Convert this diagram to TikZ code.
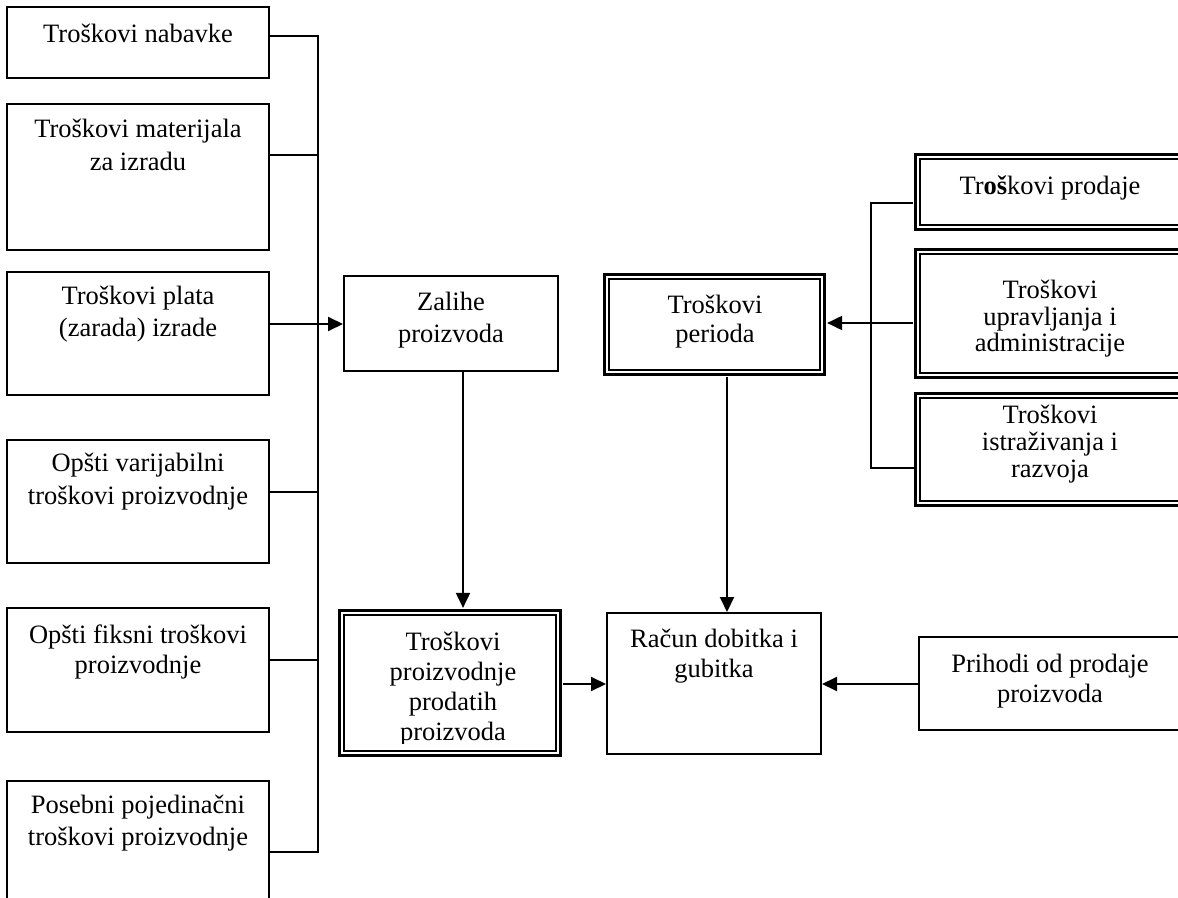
\documentclass[tikz,border=0pt]{standalone}
\usepackage{fontspec}
\setmainfont{Liberation Serif}
\usetikzlibrary{arrows.meta,calc}
\begin{document}
\begin{tikzpicture}[x=0.5pt,y=-0.5pt,
  box/.style={draw, line width=1pt, rectangle, inner sep=0pt},
  dbox/.style={draw, line width=1.3pt, rectangle, inner sep=0pt},
  dinner/.style={line width=0.9pt},
  lbl/.style={font=\fontsize{13.25pt}{#1}\selectfont, align=center, inner sep=0pt},
  lbl/.default=16pt,
  wire/.style={line width=1pt},
  arr/.style={line width=1pt, -{Triangle[length=7.5pt,width=7pt]}},
  dd/.style={shorten >=0.65pt},
  ds/.style={shorten <=0.65pt}]
\useasboundingbox (0,0) rectangle (1178,898);
\clip (0,0) rectangle (1178,898);

% left column: cost inputs
\node[box, minimum width=131pt, minimum height=35.5pt] (L1) at (138,42.5) {};
\node[box, minimum width=131pt, minimum height=73pt]   (L2) at (138,177) {};
\node[box, minimum width=131pt, minimum height=61.5pt] (L3) at (138,333.5) {};
\node[box, minimum width=131pt, minimum height=61.5pt] (L4) at (138,501.5) {};
\node[box, minimum width=131pt, minimum height=62pt]   (L5) at (138,670) {};
\node[box, minimum width=131pt, minimum height=79.5pt] (L6) at (138,860.5) {};

\node[lbl, anchor=base] (t1) at (138,43) {Troškovi nabavke};
\node[lbl=16.5pt] (t2) at (138,144.5) {Troškovi materijala\\za izradu};
\node[lbl=16pt]   (t3) at (138,314) {Troškovi plata\\(zarada) izrade};
\node[lbl=16.5pt] (t4) at (138,482) {Opšti varijabilni\\troškovi proizvodnje};
\node[lbl=15pt]   (t5) at (138,652) {Opšti fiksni troškovi\\proizvodnje};
\node[lbl=16pt]   (t6) at (138,823) {Posebni pojedinačni\\troškovi proizvodnje};

% middle boxes
\node[box, minimum width=107pt, minimum height=47.5pt] (zal) at (451,323.5) {};
\node[lbl=16pt] (tz) at (451,320) {Zalihe\\proizvoda};

\node[dbox, minimum width=110pt, minimum height=50pt] (per) at (714.5,324.5) {};
\node[lbl=14.5pt] (tper) at (715,322) {Troškovi\\perioda};

\node[dbox, minimum width=110.5pt, minimum height=72.5pt] (tpp) at (450,683) {};
\begin{scope}
  \clip (338,600) rectangle (562,743);
  \node[lbl=15pt] (ttpp) at (453,689) {Troškovi\\proizvodnje\\prodatih\\proizvoda};
\end{scope}

\node[box, minimum width=107pt, minimum height=70.5pt] (rdg) at (714,683.5) {};
\node[lbl=15pt] (trdg) at (714,656) {Račun dobitka i\\gubitka};

% right column
\node[dbox, minimum width=139.75pt, minimum height=37.5pt] (R1) at (1055.25,192) {};
\node[dbox, minimum width=139.75pt, minimum height=64pt]   (R2) at (1055.25,313.5) {};
\node[dbox, minimum width=139.75pt, minimum height=56pt]   (R3) at (1055.25,449.5) {};
\node[lbl, anchor=base] (r1) at (1050,195) {Tr\textbf{oš}kovi prodaje};
\node[lbl=13.25pt] (r2) at (1050,319) {Troškovi\\upravljanja i\\administracije};
\node[lbl=13.5pt]  (r3) at (1050,444) {Troškovi\\istraživanja i\\razvoja};

\node[box, minimum width=138pt, minimum height=46.5pt] (pri) at (1057,683.5) {};
\node[lbl=15pt] (tpri) at (1050,681) {Prihodi od prodaje\\proizvoda};

% inner rule of the double-framed boxes
\foreach \n in {per,tpp,R1,R2,R3}
  \draw[dinner] ($(\n.north west)+(5.5,5.5)$) rectangle ($(\n.south east)+(-5.5,-5.5)$);

% junction points
\coordinate (j1) at (318,36);
\coordinate (j2) at (318,155);
\coordinate (j3) at (318,324);
\coordinate (j4) at (318,492);
\coordinate (j5) at (318,660);
\coordinate (j6) at (318,852);
\coordinate (c1) at (463,0);
\coordinate (c2) at (727,0);
\coordinate (j7) at (0,684);
\coordinate (k1) at (871,203);
\coordinate (k2) at (871,323);
\coordinate (k3) at (871,468);

% left bus
\draw[wire] (j1 -| L1.east) -- (j1) -- (j6) -- (j6 -| L6.east);
\draw[wire] (j2 -| L2.east) -- (j2);
\draw[wire] (j4 -| L4.east) -- (j4);
\draw[wire] (j5 -| L5.east) -- (j5);
\draw[arr] (j3 -| L3.east) -- (j3 -| zal.west);

% flows in the middle
\draw[arr, dd] (c1 |- zal.south) -- (c1 |- tpp.north);
\draw[arr, ds] (c2 |- per.south) -- (c2 |- rdg.north);
\draw[arr, ds] (j7 -| tpp.east) -- (j7 -| rdg.west);
\draw[arr] (j7 -| pri.west) -- (j7 -| rdg.east);

% right bus
\draw[wire, ds] (k1 -| R1.west) -- (k1) -- (k3) -- (k3 -| R3.west);
\draw[arr, ds, dd] (k2 -| R2.west) -- (k2 -| per.east);
\end{tikzpicture}
\end{document}
